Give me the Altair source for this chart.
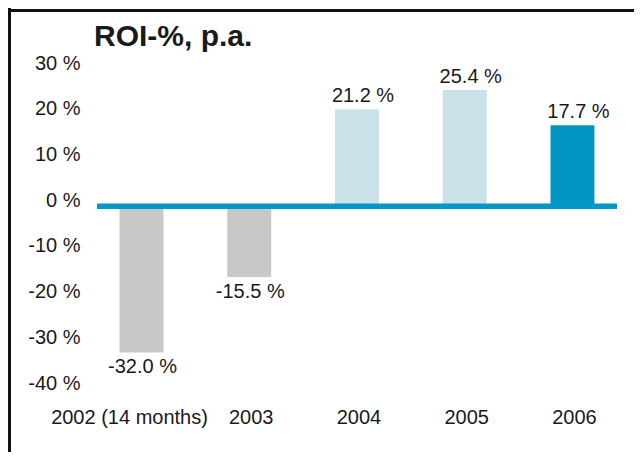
import altair as alt
import pandas as pd

# ---- data ----
TITLE = "ROI-%, p.a."
years = ["2002 (14 months)", "2003", "2004", "2005", "2006"]
roi = [-32.0, -15.5, 21.2, 25.4, 17.7]
y_ticks = [-40, -30, -20, -10, 0, 10, 20, 30]

# ---- styles ----
bar_colors = ["#c8c8c8", "#c8c8c8", "#c9e2e9", "#c9e2e9", "#0096c1"]
zero_color = "#0098c6"
text_color = "#1a1a1a"
FONT = "Liberation Sans"

df = pd.DataFrame({
    "year": years,
    "roi": roi,
    "label": [f"{v:.1f} %" for v in roi],
})

x_enc = alt.X(
    "year:N",
    sort=years,
    scale=alt.Scale(paddingInner=0.592, paddingOuter=0.209),
    axis=alt.Axis(
        title=None, labelAngle=0, ticks=False, tickSize=0, domain=False, grid=False,
        labelFont=FONT, labelFontSize=20, labelColor=text_color,
        labelPadding=18, labelBaseline="top",
        labelOffset={"condition": {"test": "datum.value === '2002 (14 months)'", "value": -12}, "value": 2},
    ),
)
y_enc = alt.Y(
    "roi:Q",
    scale=alt.Scale(domain=[-40, 30], nice=False, zero=False),
    axis=alt.Axis(
        title=None, values=y_ticks, ticks=False, tickSize=0, domain=False, grid=False,
        labelExpr="datum.value + ' %'",
        labelFont=FONT, labelFontSize=20, labelColor=text_color,
        labelPadding=17, labelBaseline="alphabetic",
    ),
)

base = alt.Chart(df)

bars = base.mark_bar().encode(
    x=x_enc,
    y=y_enc,
    color=alt.Color("year:N", scale=alt.Scale(domain=years, range=bar_colors), legend=None),
)

pos_labels = base.transform_filter("datum.roi >= 0").mark_text(
    baseline="alphabetic", align="center", dy=-7, dx=6,
    font=FONT, fontSize=20, color=text_color,
).encode(x=alt.X("year:N", sort=years), y="roi:Q", text="label:N")

neg_labels = base.transform_filter("datum.roi < 0").mark_text(
    baseline="alphabetic", align="center", dy=21, dx=1,
    font=FONT, fontSize=20, color=text_color,
).encode(x=alt.X("year:N", sort=years), y="roi:Q", text="label:N")

zero_rule = alt.Chart(pd.DataFrame({"v": [0]})).mark_rule(
    color=zero_color, strokeWidth=5.5
).encode(y="v:Q")

title_df = pd.DataFrame({"t": [TITLE]})
title = alt.Chart(title_df).mark_text(
    align="left", baseline="alphabetic", font=FONT, fontSize=30,
    fontWeight="bold", color=text_color,
).encode(x=alt.value(-3), y=alt.value(-23.5), text="t:N")

frame_top = alt.Chart(title_df).mark_rule(color="#111111", strokeWidth=3).encode(
    x=alt.value(-89), x2=alt.value(540), y=alt.value(-58.5)
)
frame_left = alt.Chart(title_df).mark_rule(color="#111111", strokeWidth=3).encode(
    x=alt.value(-87.5), y=alt.value(-61), y2=alt.value(390)
)

chart = alt.layer(
    bars, zero_rule, pos_labels, neg_labels, title, frame_top, frame_left
).properties(
    width=520,
    height=320,
    autosize=alt.AutoSizeParams(type="none"),
    padding={"left": 89, "top": 61, "right": 17, "bottom": 63},
    background="white",
).configure_view(stroke=None)

chart.save("out.html", embed_options={"renderer": "svg", "actions": False})
